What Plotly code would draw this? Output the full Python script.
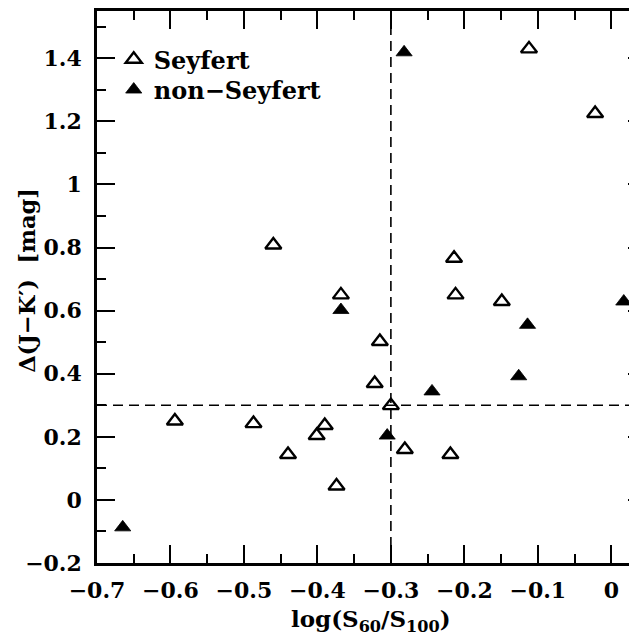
import plotly.graph_objects as go

# Seyfert (open triangles)
sey_x = [-0.112, -0.022, -0.460, -0.368, -0.214, -0.212, -0.149, -0.315, -0.322,
         -0.300, -0.390, -0.401, -0.281, -0.219, -0.374, -0.594, -0.487, -0.440]
sey_y = [1.430, 1.225, 0.808, 0.650, 0.766, 0.650, 0.629, 0.502, 0.369,
         0.299, 0.236, 0.204, 0.160, 0.144, 0.044, 0.250, 0.242, 0.144]

# non-Seyfert (filled triangles)
non_x = [-0.282, -0.368, 0.017, -0.114, -0.126, -0.244, -0.305, -0.665]
non_y = [1.419, 0.602, 0.629, 0.555, 0.392, 0.344, 0.204, -0.087]

x_cut = -0.3
y_cut = 0.3

x_range = [-0.7, 0.035]
y_range = [-0.2, 1.55]

FONT = "DejaVu Serif"
W, H = 629, 632          # page body adds an 8px offset
ml, mr, mt, mb = 89, 0, 1, 77

fig = go.Figure()
fig.add_trace(go.Scatter(
    x=sey_x, y=sey_y, mode="markers", name="Seyfert",
    marker=dict(symbol="triangle-up-open", size=14, color="black",
                line=dict(width=2.4, color="black")),
    legend="legend"))
fig.add_trace(go.Scatter(
    x=non_x, y=non_y, mode="markers", name="non\u2212Seyfert",
    marker=dict(symbol="triangle-up", size=14, color="black",
                line=dict(width=0.8, color="black")),
    legend="legend2"))
# helper trace for right-side ticks
fig.add_trace(go.Scatter(x=[], y=[], yaxis="y2", showlegend=False))

fig.add_hline(y=y_cut, line=dict(color="black", width=1.6, dash="10px,6px"))
fig.add_vline(x=x_cut, line=dict(color="black", width=1.6, dash="10px,6px"))

tickfont = dict(family=FONT, size=22, color="black", weight="bold")
legfont = dict(family=FONT, size=24, color="black", weight="bold")
fig.update_layout(
    width=W, height=H,
    margin=dict(l=ml, r=mr, t=mt, b=mb, pad=0),
    plot_bgcolor="white", paper_bgcolor="white",
    font=dict(family=FONT, color="black"),
    xaxis=dict(range=x_range, dtick=0.1, tick0=0, showgrid=False, zeroline=False,
               showline=True, linecolor="black", linewidth=2.5, mirror="ticks",
               ticks="inside", ticklen=18, tickwidth=2, tickcolor="black",
               minor=dict(ticks="inside", ticklen=9, tickwidth=2, dtick=0.05,
                          tickcolor="black", showgrid=False),
               tickfont=tickfont, ticklabelstandoff=6),
    yaxis=dict(range=y_range, dtick=0.2, tick0=0, showgrid=False, zeroline=False,
               showline=True, linecolor="black", linewidth=2.5, mirror=False,
               ticks="inside", ticklen=18, tickwidth=2, tickcolor="black",
               minor=dict(ticks="inside", ticklen=9, tickwidth=2, dtick=0.1,
                          tickcolor="black", showgrid=False),
               tickfont=tickfont, ticklabelstandoff=8),
    yaxis2=dict(range=y_range, overlaying="y", side="right", dtick=0.2, tick0=0,
                showgrid=False, zeroline=False, showline=False, showticklabels=False,
                ticks="inside", ticklen=9, tickwidth=2, tickcolor="black",
                minor=dict(ticks="inside", ticklen=2, tickwidth=2, dtick=0.1,
                           tickcolor="black", showgrid=False)),
    legend=dict(x=0.031, y=0.912, xanchor="left", yanchor="middle",
                font=legfont, bgcolor="rgba(0,0,0,0)", borderwidth=0),
    legend2=dict(x=0.031, y=0.857, xanchor="left", yanchor="middle",
                 font=legfont, bgcolor="rgba(0,0,0,0)", borderwidth=0),
    showlegend=True,
)

fig.add_annotation(text="log(S<sub>60</sub>/S<sub>100</sub>)", xref="paper", yref="paper",
                   x=0.508, y=-0.105, xanchor="center", yanchor="middle", showarrow=False,
                   font=dict(family=FONT, size=23, color="black", weight="bold"))
fig.add_annotation(text="\u0394(J\u2212K\u2032)  [mag]", xref="paper", yref="paper",
                   x=-0.13, y=0.5126, xanchor="center", yanchor="middle", showarrow=False,
                   textangle=-90, font=dict(family=FONT, size=22.5, color="black", weight="bold"))

fig.write_html("out.html")
